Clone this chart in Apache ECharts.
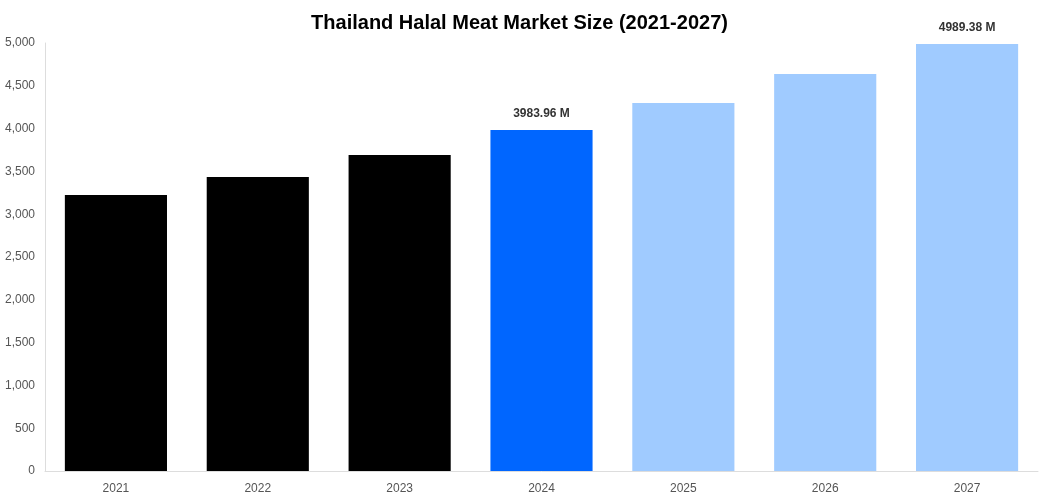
<!DOCTYPE html>
<html>
<head>
<meta charset="utf-8">
<script src="https://cdn.jsdelivr.net/npm/echarts@6/dist/echarts.min.js"></script>
<style>html,body{margin:0;padding:0;background:#fff}#box{width:1039px;height:500px}</style>
</head>
<body>
<div id="box"></div>
<script>
// 年份
var years = ['2021', '2022', '2023', '2024', '2025', '2026', '2027'];
// 市场规模 (百万)
var sizes = [3224, 3435, 3692, 3983.96, 4299, 4638, 4989.38];
// 颜色：历史 / 当年 / 预测
var colors = ['#000000', '#000000', '#000000', '#0066ff', '#a0cbff', '#a0cbff', '#a0cbff'];
// 显示数值标签的年份
var labeled = ['2024', '2027'];

var myChart = echarts.init(document.getElementById('box'));
myChart.setOption({
    title: {
        text: 'Thailand Halal Meat Market Size (2021-2027)',
        left: 'center', top: 8,
        textStyle: { fontFamily: 'Liberation Sans', fontSize: 20, fontWeight: 'bold', color: '#000' }
    },
    grid: { left: 45, right: 1, top: 43, bottom: 29 },
    xAxis: {
        type: 'category',
        data: years,
        axisLine: { lineStyle: { color: '#ddd' } },
        axisTick: { show: false },
        axisLabel: { color: '#555', fontFamily: 'Liberation Sans', fontSize: 12, margin: 12 }
    },
    yAxis: {
        type: 'value',
        min: 0, max: 5000, interval: 500,
        axisLine: { show: true, lineStyle: { color: '#ddd' } },
        splitLine: { show: false },
        axisLabel: {
            color: '#555', fontFamily: 'Liberation Sans', fontSize: 12, margin: 10,
            formatter: function (v) { return v.toLocaleString('en-US'); }
        }
    },
    series: [{
        type: 'bar',
        barWidth: '72%',
        data: sizes.map(function (v, i) {
            return {
                value: v,
                itemStyle: { color: colors[i] },
                label: {
                    show: labeled.indexOf(years[i]) >= 0,
                    position: 'top', distance: 10,
                    formatter: v.toFixed(2) + ' M',
                    fontFamily: 'Liberation Sans', fontSize: 12, fontWeight: 'bold', color: '#333'
                }
            };
        })
    }]
});
</script>
</body>
</html>
